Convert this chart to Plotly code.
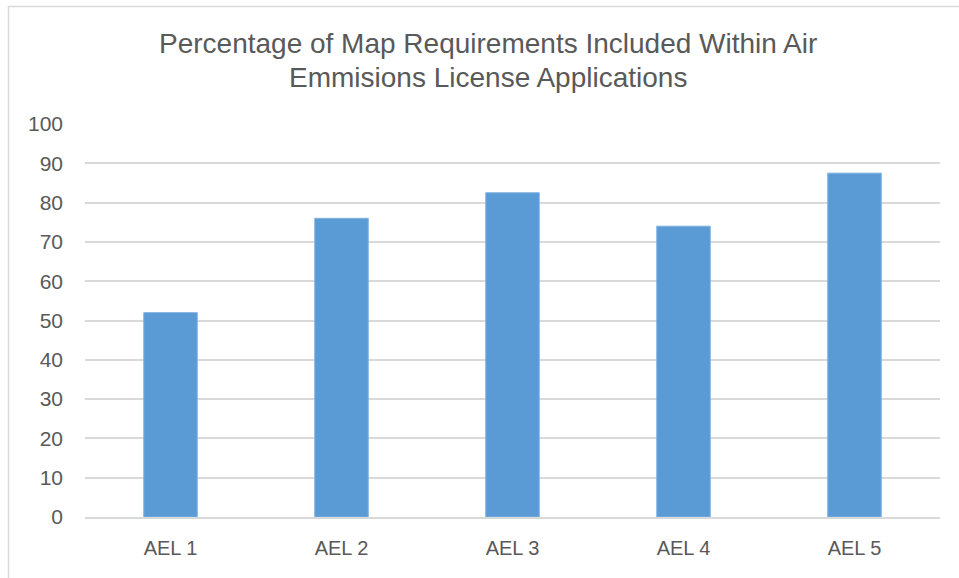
import plotly.graph_objects as go

# Share of map requirements covered by each air emissions licence application
categories = ["AEL 1", "AEL 2", "AEL 3", "AEL 4", "AEL 5"]
percent_included = [52, 76, 82.5, 74, 87.5]
y_ticks = [0, 10, 20, 30, 40, 50, 60, 70, 80, 90, 100]
title_lines = [
    "Percentage of Map Requirements Included Within Air",
    "Emmisions License Applications",
]

TEXT = "#595959"
GRID = "#D9D9D9"
BAR = "#5B9BD5"
FONT = "Liberation Sans, Arial, sans-serif"
W, H = 959, 578

fig = go.Figure(
    go.Bar(
        x=categories,
        y=percent_included,
        marker=dict(color=BAR, line=dict(color="#7FB2E0", width=1)),
    )
)

# two title lines placed individually for tighter line spacing
title_annotations = [
    dict(
        text=line,
        xref="paper",
        yref="paper",
        x=(488.3 - 85) / 855,
        y=(517 - cy) / 393,
        xanchor="center",
        yanchor="middle",
        showarrow=False,
        font=dict(family=FONT, size=28, color=TEXT),
    )
    for line, cy in zip(title_lines, [43, 77])
]

fig.update_layout(
    width=W,
    height=H,
    margin=dict(l=85, r=19, t=124, b=61),
    paper_bgcolor="white",
    plot_bgcolor="white",
    bargap=0.687,
    showlegend=False,
    font=dict(family=FONT, color=TEXT, size=20),
    annotations=title_annotations,
    shapes=[
        # outer chart frame (top and left edges fall inside the page)
        dict(
            type="rect",
            xref="paper",
            yref="paper",
            x0=(8.5 - 85) / 855,
            x1=(975 - 85) / 855,
            y0=(517 - 600) / 393,
            y1=(517 - 6.5) / 393,
            line=dict(color="#D9D9D9", width=1.5),
            layer="below",
        )
    ],
)

fig.update_xaxes(
    showgrid=False,
    showline=True,
    linecolor=GRID,
    linewidth=1.5,
    ticks="",
    tickfont=dict(size=20, color=TEXT),
    ticklabelstandoff=12,
)

fig.update_yaxes(
    range=[0, 100],
    tickvals=y_ticks,
    showgrid=True,
    gridcolor=GRID,
    gridwidth=1.5,
    zeroline=False,
    showline=False,
    ticks="",
    tickfont=dict(size=21, color=TEXT),
    ticklabelstandoff=21,
)

fig.write_html("out.html")
